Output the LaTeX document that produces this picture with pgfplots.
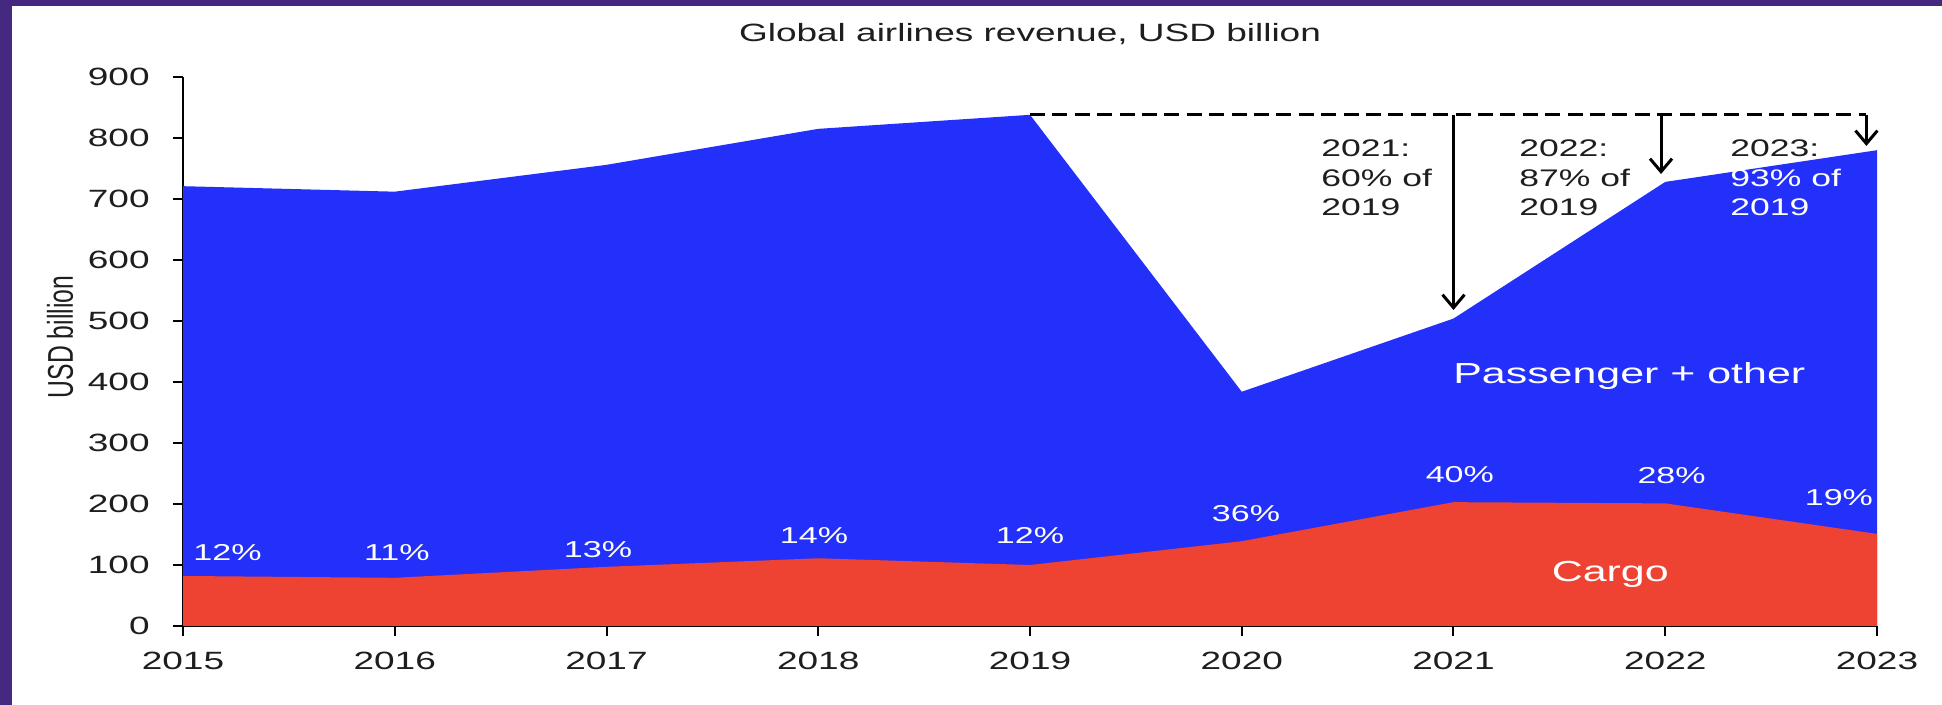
\documentclass[border=0pt]{standalone}
\usepackage{pgfplots}
\pgfplotsset{compat=1.18}
\usetikzlibrary{arrows.meta}
\usepackage{fontspec}
\setmainfont{Liberation Sans}[FakeStretch=1.48]
\newfontfamily\ylabfont{Liberation Sans}[FakeStretch=0.69]
\definecolor{pblue}{RGB}{34,48,250}
\definecolor{cred}{RGB}{238,67,50}
\definecolor{framec}{RGB}{69,41,128}
\definecolor{txt}{RGB}{30,30,30}
\begin{document}
\begin{tikzpicture}
\useasboundingbox (0,0) rectangle (971pt,352.5pt);
\fill[white] (0,0) rectangle (971pt,352.5pt);
\fill[framec] (0,0) rectangle (6pt,352.5pt);
\fill[framec] (0,349.5pt) rectangle (971pt,352.5pt);
\begin{axis}[
  at={(91.5pt,39.5pt)}, anchor=south west,
  scale only axis, width=847pt, height=274.5pt,
  xmin=2015, xmax=2023, ymin=0, ymax=900,
  axis x line*=bottom, axis y line*=left,
  axis line style={black, line width=1pt},
  xtick={2015,2016,...,2023}, ytick={0,100,...,900},
  tick align=outside, major tick length=5pt,
  tick style={black, line width=1pt},
  /pgf/number format/assume math mode=true,
  /pgf/number format/1000 sep={},
  ticklabel style={font=\fontsize{12.5}{15}\selectfont, text=txt},
  xticklabel style={anchor=north, inner sep=0pt, yshift=-7.7pt},
  yticklabel style={anchor=east, inner sep=0pt, xshift=-11.5pt},
  clip=false,
]
\addplot[draw=none, fill=pblue] coordinates {
  (2015,721) (2016,712) (2017,756) (2018,815) (2019,838)
  (2020,384) (2021,504) (2022,728) (2023,780)} \closedcycle;
\addplot[draw=none, fill=cred] coordinates {
  (2015,82) (2016,79) (2017,97) (2018,111) (2019,100)
  (2020,139) (2021,203) (2022,201) (2023,151)} \closedcycle;
\addplot[black, line width=1.5pt, dash pattern=on 7.5pt off 3.7pt] coordinates {(2019,838) (2022.95,838)};
\draw[line width=1.5pt, -{Straight Barb[length=6.5pt,width=11pt,line width=1.5pt]}] (axis cs:2021.0,838) -- (axis cs:2021.0,518);
\draw[line width=1.5pt, -{Straight Barb[length=6.5pt,width=11pt,line width=1.5pt]}] (axis cs:2021.98,838) -- (axis cs:2021.98,741);
\draw[line width=1.5pt, -{Straight Barb[length=6.5pt,width=11pt,line width=1.5pt]}] (axis cs:2022.95,838) -- (axis cs:2022.95,787);
\begin{scope}[every node/.style={text=white, font=\fontsize{11.5}{13}\selectfont}]
\node at (axis cs:2015.21,121) {12\%};
\node at (axis cs:2016.01,121) {11\%};
\node at (axis cs:2016.96,126) {13\%};
\node at (axis cs:2017.98,149) {14\%};
\node at (axis cs:2019.00,149) {12\%};
\node at (axis cs:2020.02,184) {36\%};
\node at (axis cs:2021.03,249) {40\%};
\node at (axis cs:2022.03,246) {28\%};
\node at (axis cs:2022.82,210) {19\%};
\end{scope}
\node[text=white, font=\fontsize{14.5}{17}\selectfont] at (axis cs:2021.83,410) {Passenger + other};
\node[text=white, font=\fontsize{14.5}{17}\selectfont] at (axis cs:2021.74,85) {Cargo};
\node[anchor=north west, inner sep=0pt, align=left, text=txt, font=\fontsize{12}{14.75}\selectfont] at (axis cs:2020.374,797) {2021:\\60\% of\\2019};
\node[anchor=north west, inner sep=0pt, align=left, text=txt, font=\fontsize{12}{14.75}\selectfont] at (axis cs:2021.309,797) {2022:\\87\% of\\2019};
\node[anchor=north west, inner sep=0pt, align=left, text=txt, font=\fontsize{12}{14.75}\selectfont] at (axis cs:2022.306,797) {2023:\\\textcolor{white}{93\% of}\\\textcolor{white}{2019}};
\end{axis}
\node[font=\fontsize{12.5}{15}\selectfont, text=txt] at (515pt,335.5pt) {Global airlines revenue, USD billion};
\node[rotate=90, font=\ylabfont\fontsize{17.9}{20}\selectfont, text=txt] at (30pt,184pt) {USD billion};
\end{tikzpicture}
\end{document}
